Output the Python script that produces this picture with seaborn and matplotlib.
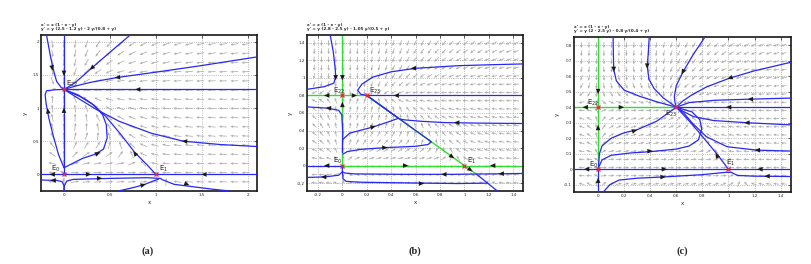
"""Phase portraits (a)-(c): direction field, orbits and equilibria."""
import numpy as np
import matplotlib
matplotlib.use("Agg")
import matplotlib.pyplot as plt
import seaborn as sns

sns.set_theme(style="white")
plt.rcParams["font.family"] = ["DejaVu Sans"]
plt.rcParams["xtick.direction"] = "in"
plt.rcParams["ytick.direction"] = "in"

BLUE = "#2828f4"
GREEN = "#30dc30"
RED = "#e8283c"
GRAY = "#acacac"
FIG_W, FIG_H = 811, 264

# ---------------- panel (a)
A_TITLE = "x' = x (1 - x - y)\ny' = y (2.5 - 1.2 y) - 2 y/(0.8 + y)"
A_LIM = [-0.25, 2.1, -0.25, 2.1]
A_XTICKS = [0, 0.5, 1, 1.5, 2]
A_YTICKS = [0, 0.5, 1, 1.5, 2]
A_PARAMS = [2.5, 1.2, 2.0, 0.8]          # y' = y(a - b y) - c y/(d + y)
A_EQ_X = [0, 1, 0]
A_EQ_Y = [0, 0, 1.28]
A_LAB = ["E$_0$", "E$_1$", "E$_{22}$"]
A_LAB_X = [-0.14, 1.03, 0.02]
A_LAB_Y = [0.05, 0.05, 1.33]
A_GREEN = []
A_BLUE = [
    ([-0.25, 2.1], [0, 0]),
    ([0, 0], [0, 2.1]),
    ([0, 2.1], [1.28, 1.28]),
    ([0, 0.15, 0.3, 0.58, 1.0, 1.5, 2.1], [1.28, 1.34, 1.39, 1.46, 1.54, 1.64, 1.77]),
    ([0.72, 0.5, 0.3, 0.12, 0], [2.1, 1.84, 1.6, 1.38, 1.28]),
    ([-0.19, -0.15, -0.12, -0.08, -0.03, 0], [2.1, 1.8, 1.6, 1.4, 1.31, 1.28]),
    ([0, -0.06, -0.12, -0.165, -0.195, -0.205, -0.19, -0.1, 0],
     [0.1, 0.3, 0.6, 0.85, 1.07, 1.2, 1.26, 1.275, 1.28]),
    ([0, 0.1, 0.2, 0.33, 0.43, 0.47, 0.46, 0.42, 0.33, 0.18, 0],
     [0.1, 0.17, 0.24, 0.3, 0.38, 0.55, 0.75, 0.9, 1.04, 1.17, 1.28]),
    ([1, 0.9, 0.77, 0.62, 0.45, 0.3, 0.15, 0], [0, 0.15, 0.33, 0.6, 0.88, 1.07, 1.2, 1.28]),
    ([2.1, 1.7, 1.3, 0.95, 0.6, 0.35, 0.15, 0], [0.42, 0.45, 0.5, 0.62, 0.8, 0.98, 1.15, 1.28]),
    ([0, 0, -0.02, -0.08, -0.25], [-0.25, -0.17, -0.11, -0.09, -0.085]),
    ([0, 0.005, 0.03, 0.1, 0.5, 0.9, 1.05, 1.07, 1.2, 1.6, 1.8],
     [-0.25, -0.17, -0.1, -0.075, -0.06, -0.05, -0.06, -0.08, -0.15, -0.22, -0.25]),
    ([0.59, 0.75, 0.87, 0.97, 1.03], [-0.25, -0.2, -0.155, -0.1, -0.07]),
]
A_ARR_X = [-0.13, 0.27, 1.52, 0, 0, 0.8, 0.58, 0.3, -0.128, -0.175, 0.37, 0.77, 1.31, -0.12, 0.39, 1.34, 0.865]
A_ARR_Y = [0, 0, 0, 1.52, 0.97, 1.28, 1.46, 1.6, 1.6, 0.96, 0.32, 0.32, 0.5, -0.09, -0.058, -0.15, -0.157]
A_ARR_DX = [-1, 1, -1, 0, 0, -1, -1, -1, 0.15, -0.1, 1, -0.6, -1, -1, 1, 1, 1]
A_ARR_DY = [0, 0, 0, -1, 1, 0, -0.15, -1.2, -1, 1, 0.7, 1.2, 0.12, 0, 0.02, -0.5, 0.4]

# ---------------- panel (b)
B_TITLE = "x' = x (1 - x - y)\ny' = y (2.8 - 2.5 y) - 1.05 y/(0.5 + y)"
B_LIM = [-0.29, 1.48, -0.29, 1.49]
B_XTICKS = [-0.2, 0, 0.2, 0.4, 0.6, 0.8, 1, 1.2, 1.4]
B_YTICKS = [-0.2, 0, 0.2, 0.4, 0.6, 0.8, 1, 1.2, 1.4]
B_PARAMS = [2.8, 2.5, 1.05, 0.5]
B_EQ_X = [0, 1, 0, 0.2]
B_EQ_Y = [0, 0, 0.8, 0.8]
B_LAB = ["E$_0$", "E$_1$", "E$_{22}$", "E$_{23}$"]
B_LAB_X = [-0.075, 1.02, -0.08, 0.22]
B_LAB_Y = [0.035, 0.035, 0.835, 0.835]
B_GREEN = [
    ([0, 0], [0, 1.49]),
    ([0, 1.48], [0, 0]),
    ([-0.29, 0.2], [0.8, 0.8]),
    ([0.2, 1.1], [0.8, -0.1]),
]
B_BLUE = [
    ([-0.29, 0], [0, 0]),
    ([0.2, 1.48], [0.8, 0.8]),
    ([1.1, 1.27], [-0.1, -0.29]),
    ([-0.1, -0.075, -0.06, -0.055, -0.07, -0.15, -0.29], [1.49, 1.3, 1.12, 1.02, 0.94, 0.9, 0.87]),
    ([0, 0.003, -0.005, -0.03, -0.12, -0.29], [0.15, 0.4, 0.58, 0.63, 0.655, 0.67]),
    ([0.005, 0.04, 0.15, 0.35, 0.6, 0.7, 0.73, 0.5, 0.2],
     [0.13, 0.16, 0.185, 0.205, 0.22, 0.24, 0.27, 0.5, 0.8]),
    ([0.005, 0.06, 0.25, 0.38, 0.46, 0.2], [0.3, 0.37, 0.44, 0.5, 0.54, 0.8]),
    ([1.48, 1.1, 0.85, 0.65, 0.52, 0.47], [0.48, 0.485, 0.49, 0.505, 0.52, 0.53]),
    ([1.48, 1.2, 0.95, 0.6, 0.4, 0.25, 0.16, 0.125, 0.15, 0.2],
     [1.16, 1.15, 1.14, 1.11, 1.07, 1.01, 0.93, 0.86, 0.815, 0.8]),
    ([1.48, 1.2, 0.9, 0.5, 0.1, 0.02, 0], [-0.09, -0.095, -0.1, -0.1, -0.095, -0.085, -0.07]),
    ([0, -0.03, -0.15, -0.29], [-0.07, -0.11, -0.13, -0.135]),
    ([0, 0, 0.005, 0.03, 0.15, 0.65, 0.95, 1.19],
     [0, -0.07, -0.15, -0.18, -0.19, -0.2, -0.205, -0.2]),
]
B_ARR_X = [-0.13, 0.52, 1.23, 0, 0, -0.13, 0.1, 0.44, -0.055, -0.115, 0.35, 0.254, 0.935, 0.58, 0.9, 1.05, 1.3, 0.83, -0.155, 0.65]
B_ARR_Y = [0, 0, 0, 1.0, 0.7, 0.8, 0.8, 0.8, 1.0, 0.655, 0.205, 0.443, 0.49, 1.11, 0.1, -0.05, -0.092, -0.1, -0.13, -0.205]
B_ARR_DX = [-1, 1, -1, 0, 0, -1, 1, -1, 0, -1, 1, 1, -1, -1, 1, 1, -1, -1, -1, 1]
B_ARR_DY = [0, 0, 0, -1, 1, 0, 0, 0, -1, 0, 0.05, 0.4, 0, -0.05, -1, -1, 0, 0, 0, 0]

# ---------------- panel (c)
C_TITLE = "x' = x (1 - x - y)\ny' = y (2 - 2.5 y) - 0.8 y/(0.4 + y)"
C_LIM = [-0.185, 1.48, -0.147, 0.853]
C_XTICKS = [0, 0.2, 0.4, 0.6, 0.8, 1, 1.2, 1.4]
C_YTICKS = [-0.1, 0, 0.1, 0.2, 0.3, 0.4, 0.5, 0.6, 0.7, 0.8]
C_PARAMS = [2.0, 2.5, 0.8, 0.4]
C_EQ_X = [0, 1, 0, 0.6]
C_EQ_Y = [0, 0, 0.4, 0.4]
C_LAB = ["E$_0$", "E$_1$", "E$_{22}$", "E$_{23}$"]
C_LAB_X = [-0.07, 0.98, -0.085, 0.51]
C_LAB_Y = [0.015, 0.03, 0.415, 0.345]
C_GREEN = [
    ([0, 0], [0, 0.853]),
    ([-0.185, 0.6], [0.4, 0.4]),
]
C_BLUE = [
    ([-0.185, 1.48], [0, 0]),
    ([0, 0], [-0.147, 0]),
    ([0.6, 1.48], [0.4, 0.4]),
    ([0.6, 0.65, 0.72, 0.83, 1.0, 1.2, 1.48], [0.4, 0.44, 0.48, 0.53, 0.585, 0.635, 0.69]),
    ([0.6, 0.7, 0.9, 1.17, 1.48], [0.4, 0.43, 0.445, 0.452, 0.459]),
    ([0.6, 0.66, 0.73, 0.885, 1.14, 1.48], [0.4, 0.37, 0.34, 0.314, 0.3, 0.286]),
    ([0.6, 0.66, 0.72, 0.83, 0.99, 1.22, 1.48], [0.4, 0.36, 0.3, 0.21, 0.145, 0.123, 0.117]),
    ([0.6, 0.7, 0.78, 0.91, 1.0], [0.4, 0.31, 0.232, 0.1, 0]),
    ([0.04, 0.09, 0.16, 0.3, 0.5, 0.8, 0.98, 1.02, 1.07, 1.2, 1.48],
     [-0.147, -0.1, -0.07, -0.058, -0.05, -0.035, -0.02, -0.02, -0.04, -0.045, -0.047]),
    ([0.115, 0.117, 0.12, 0.14, 0.2, 0.32, 0.45, 0.6],
     [0.853, 0.75, 0.643, 0.57, 0.51, 0.47, 0.435, 0.4]),
    ([0.392, 0.385, 0.377, 0.39, 0.43, 0.5, 0.6], [0.853, 0.75, 0.665, 0.58, 0.52, 0.46, 0.4]),
    ([0.82, 0.73, 0.654, 0.6, 0.585, 0.59, 0.6], [0.853, 0.74, 0.632, 0.54, 0.47, 0.43, 0.4]),
    ([0.003, 0.01, 0.03, 0.1, 0.2, 0.3, 0.45, 0.6], [0.02, 0.1, 0.15, 0.2, 0.235, 0.255, 0.31, 0.4]),
    ([0.003, 0.03, 0.1, 0.25, 0.4, 0.6, 0.7, 0.77, 0.795, 0.78, 0.72, 0.6],
     [0.01, 0.06, 0.09, 0.105, 0.113, 0.13, 0.15, 0.19, 0.26, 0.32, 0.37, 0.4]),
]
C_ARR_X = [0, 0, 0, -0.1, 0.18, -0.09, 0.51, 1.24, 1.01, 1.167, 1.0, 1.14, 1.22, 0.91, 0.5, 1.295, 0.12, 0.377, 0.649, 0.282, 0.4]
C_ARR_Y = [0.5, 0.27, -0.07, 0.4, 0.4, 0, 0, 0, 0.588, 0.452, 0.4, 0.3, 0.123, 0.09, -0.05, -0.045, 0.643, 0.664, 0.626, 0.249, 0.117]
C_ARR_DX = [0, 0, 0, -1, 1, -1, 1, -1, -1, -1, -1, -1, -1, -0.6, 1, -1, 0, 0, -0.6, 1, 1]
C_ARR_DY = [-1, 1, 1, 0, 0, 0, 0, 0, -0.3, 0, 0, 0, 0, 1, 0.03, 0, -1, -1, -1, 0.25, 0.03]


def fmt(t):
    return ("%g" % t)


def panel(pos, lim, xticks, yticks, params, nx, ny, alen, title, green, blue,
          eqx, eqy, labs, labx, laby, arx, ary, ardx, ardy):
    l, t, w, h = pos
    ax = fig.add_axes([l / FIG_W, 1 - (t + h) / FIG_H, w / FIG_W, h / FIG_H])
    x0, x1, y0, y1 = lim
    sx, sy = w / (x1 - x0), h / (y1 - y0)

    # direction field
    X, Y = np.meshgrid(np.linspace(x0, x1, nx)[1:-1], np.linspace(y0, y1, ny)[1:-1])
    a, b, c, d = params
    U = X * (1 - X - Y) * sx
    V = (Y * (a - b * Y) - c * Y / (d + Y)) * sy
    n = np.hypot(U, V) + 1e-12
    ax.quiver(X, Y, U / n, V / n, angles="uv", scale_units="inches", scale=1 / alen,
              pivot="middle", color=GRAY, width=0.0035, headwidth=3.5, headlength=4,
              headaxislength=3.5, zorder=1)

    for xs, ys in green:
        sns.lineplot(x=xs, y=ys, sort=False, estimator=None, color=GREEN, lw=1.0, ax=ax, zorder=2)
    for xs, ys in blue:
        sns.lineplot(x=xs, y=ys, sort=False, estimator=None, color=BLUE, lw=0.9, ax=ax, zorder=3)

    hp = 5.0  # head length in px
    for x, y, dx, dy in zip(arx, ary, ardx, ardy):
        ux, uy = dx * sx, dy * sy
        m = np.hypot(ux, uy)
        ux, uy = ux / m, uy / m
        tip = (x + ux * hp / 2 / sx, y + uy * hp / 2 / sy)
        ax.annotate("", xy=tip, xytext=(-ux * hp * 0.72, -uy * hp * 0.72),
                    textcoords="offset points",
                    arrowprops=dict(arrowstyle="-|>,head_length=0.55,head_width=0.24",
                                    color="k", lw=0.01, mutation_scale=7,
                                    shrinkA=0, shrinkB=0), zorder=4)

    ax.plot(eqx, eqy, "x", color=RED, ms=2.6, mew=0.9, zorder=5)
    for s, x, y in zip(labs, labx, laby):
        ax.text(x, y, s, fontsize=5, color="#202020", zorder=6)

    ax.set_xlim(x0, x1)
    ax.set_ylim(y0, y1)
    ax.set_xticks(xticks)
    ax.set_yticks(yticks)
    ax.set_xticklabels([fmt(v) for v in xticks])
    ax.set_yticklabels([fmt(v) for v in yticks])
    ax.tick_params(labelsize=3, length=2, width=0.5, pad=1.5, top=True, right=True)
    ax.grid(True, ls=":", color="#8a8a8a", lw=0.5)
    for sp in ax.spines.values():
        sp.set_color("#181818")
        sp.set_linewidth(1.2)
    ax.set_xlabel("x", fontsize=4, labelpad=2)
    ax.set_ylabel("y", fontsize=4, labelpad=3)
    ax.text(0.0, 1.025, title, transform=ax.transAxes, fontsize=3, fontweight="bold",
            va="bottom", ha="left", linespacing=1.1)
    return ax


fig = plt.figure(figsize=(FIG_W / 100, FIG_H / 100), dpi=100)

panel([41, 35, 216, 156], A_LIM, A_XTICKS, A_YTICKS, A_PARAMS, 20, 18, 0.08, A_TITLE,
      A_GREEN, A_BLUE, A_EQ_X, A_EQ_Y, A_LAB, A_LAB_X, A_LAB_Y,
      A_ARR_X, A_ARR_Y, A_ARR_DX, A_ARR_DY)
panel([307, 35, 216, 156], B_LIM, B_XTICKS, B_YTICKS, B_PARAMS, 31, 20, 0.06, B_TITLE,
      B_GREEN, B_BLUE, B_EQ_X, B_EQ_Y, B_LAB, B_LAB_X, B_LAB_Y,
      B_ARR_X, B_ARR_Y, B_ARR_DX, B_ARR_DY)
panel([574, 37, 217, 155], C_LIM, C_XTICKS, C_YTICKS, C_PARAMS, 30, 20, 0.06, C_TITLE,
      C_GREEN, C_BLUE, C_EQ_X, C_EQ_Y, C_LAB, C_LAB_X, C_LAB_Y,
      C_ARR_X, C_ARR_Y, C_ARR_DX, C_ARR_DY)

for s, x in zip(["(a)", "(b)", "(c)"], [148, 415, 682]):
    fig.text(x / FIG_W, 1 - 251 / FIG_H, s, fontsize=7.5, fontweight="bold",
             family=["Liberation Serif", "DejaVu Serif"], ha="center", va="center")

fig.savefig("out.png", dpi=100)
